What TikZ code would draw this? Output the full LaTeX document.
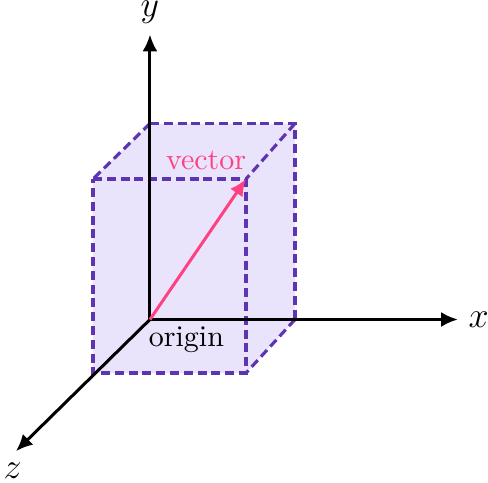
\documentclass[tikz,border=0pt]{standalone}
\usetikzlibrary{arrows.meta,positioning}
\definecolor{boxedge}{RGB}{94,53,177}
\definecolor{boxfill}{RGB}{233,228,251}
\definecolor{vecpink}{RGB}{255,64,129}

\begin{document}
\begin{tikzpicture}[
        axis/.style={draw, -{Latex[length=5.6pt,width=5pt]}, line width=1pt},
        edge/.style={draw=boxedge, line width=1.05pt, dash pattern=on 3pt off 1.6pt},
        vec/.style={draw=vecpink, -{Latex[length=5.6pt,width=5pt]}, line width=1pt},
        axlabel/.style={font=\large}
    ]
    \useasboundingbox (-1.757,-1.904) rectangle (3.960,3.743);

    % Corners
    \coordinate (O) at (0,0);
    \coordinate (btl) at (0,2.296);
    \coordinate (btr) at (1.699,2.296);
    \coordinate (bbr) at (1.699,0);
    \coordinate (ftl) at (-0.668,1.646);
    \coordinate (ftr) at (1.125,1.646);
    \coordinate (fbr) at (1.125,-0.627);
    \coordinate (fbl) at (-0.668,-0.627);

    % Axis ends
    \coordinate (xend) at (3.608,0);
    \coordinate (yend) at (0,3.339);
    \coordinate (zend) at (-1.570,-1.543);

    % Box
    \fill[boxfill] (btl) -- (btr) -- (bbr) -- (fbr) -- (fbl) -- (ftl) -- cycle;
    \path[edge] (btl) -- (btr) -- (bbr);
    \path[edge] (ftl) -- (ftr) -- (fbr) -- (fbl) -- cycle;
    \path[edge] (btl) -- (ftl);
    \path[edge] (btr) -- (ftr);
    \path[edge] (bbr) -- (fbr);

    % Axes
    \path[axis] (O) -- (xend);
    \path[axis] (O) -- (yend);
    \path[axis] (O) -- (zend);
    \path[vec] (O) -- (ftr);

    % Labels
    \node[axlabel, right=0pt of xend] (xlabel) {$x$};
    \node[axlabel, above=0pt of yend] (ylabel) {$y$};
    \node[axlabel, below=0.01cm of zend, xshift=-0.04cm] (zlabel) {$z$};
    \node[anchor=base east, text=vecpink] (veclabel) at ([shift={(0.125,0.114)}]ftr) {vector};
    \node[anchor=base west] (origlabel) at ([shift={(-0.137,-0.319)}]O) {origin};
\end{tikzpicture}
\end{document}
